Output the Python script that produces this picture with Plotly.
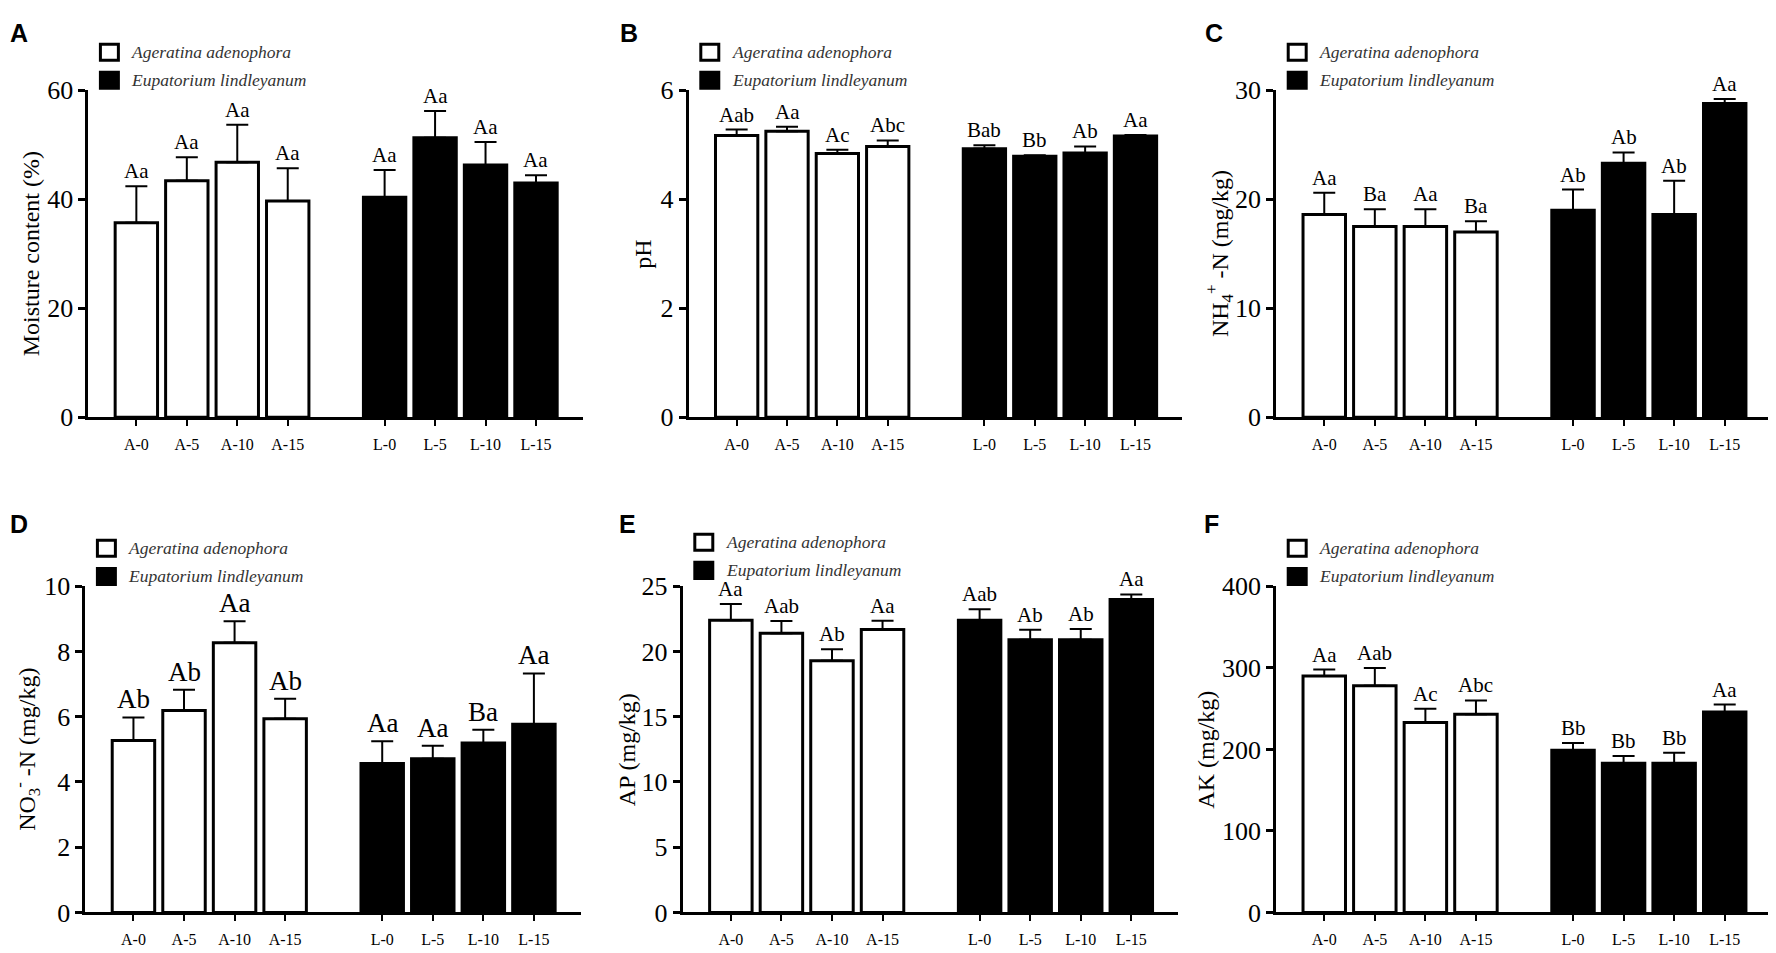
import plotly.graph_objects as go

W, H = 1776, 953

# the photographed page shows the figure slightly shifted and squeezed
# vertically; positions below are reference pixels, mapped to figure pixels
SX, OX = 0.999, -4.5
SY, OY = 1.0315, -23.4

# ---- data ----
labels_a = ["A-0", "A-5", "A-10", "A-15"]
labels_l = ["L-0", "L-5", "L-10", "L-15"]
pos_a = [0, 1, 2, 3]
pos_l = [4.92, 5.92, 6.92, 7.92]

moist_a = [35.7, 43.4, 46.8, 39.7]
moist_a_err = [6.7, 4.3, 6.9, 6.0]
moist_l = [40.4, 51.3, 46.3, 43.0]
moist_l_err = [5.0, 4.9, 4.2, 1.4]
moist_let = ["Aa", "Aa", "Aa", "Aa", "Aa", "Aa", "Aa", "Aa"]

ph_a = [5.17, 5.25, 4.84, 4.97]
ph_a_err = [0.11, 0.08, 0.07, 0.11]
ph_l = [4.93, 4.79, 4.85, 5.16]
ph_l_err = [0.06, 0.02, 0.12, 0.02]
ph_let = ["Aab", "Aa", "Ac", "Abc", "Bab", "Bb", "Ab", "Aa"]

nh4_a = [18.6, 17.5, 17.5, 17.0]
nh4_a_err = [2.0, 1.6, 1.6, 1.0]
nh4_l = [19.0, 23.3, 18.6, 28.8]
nh4_l_err = [1.9, 1.0, 3.1, 0.4]
nh4_let = ["Aa", "Ba", "Aa", "Ba", "Ab", "Ab", "Ab", "Aa"]

no3_a = [5.27, 6.19, 8.27, 5.94]
no3_a_err = [0.71, 0.64, 0.66, 0.61]
no3_l = [4.57, 4.71, 5.20, 5.77]
no3_l_err = [0.68, 0.40, 0.40, 1.56]
no3_let = ["Ab", "Ab", "Aa", "Ab", "Aa", "Aa", "Ba", "Aa"]

ap_a = [22.4, 21.4, 19.3, 21.7]
ap_a_err = [1.25, 0.95, 0.87, 0.66]
ap_l = [22.4, 20.9, 20.9, 24.0]
ap_l_err = [0.85, 0.77, 0.84, 0.38]
ap_let = ["Aa", "Aab", "Ab", "Aa", "Aab", "Ab", "Ab", "Aa"]

ak_a = [290, 278, 233, 243]
ak_a_err = [8, 22, 17, 17]
ak_l = [199, 183, 183, 246]
ak_l_err = [9, 9, 13, 9]
ak_let = ["Aa", "Aab", "Ac", "Abc", "Bb", "Bb", "Bb", "Aa"]

species = ["Ageratina adenophora", "Eupatorium lindleyanum"]

# panel: letter, values, y ticks, title, pixel box (left, right, top, bottom),
# letter pos, title offset, letter font size, legend lift
panels = [
    ("A", moist_a, moist_a_err, moist_l, moist_l_err, moist_let, [0, 20, 40, 60],
     "Moisture content (%)", (85, 580, 91, 418), (10, 17), -58, 21, 0),
    ("B", ph_a, ph_a_err, ph_l, ph_l_err, ph_let, [0, 2, 4, 6],
     "pH", (686, 1180, 91, 418), (626, 17), -46, 21, 0),
    ("C", nh4_a, nh4_a_err, nh4_l, nh4_l_err, nh4_let, [0, 10, 20, 30],
     "NH<sub>4</sub><sup>+</sup> -N (mg/kg)", (1274, 1770, 91, 418), (1212, 17), -57, 21, 0),
    ("D", no3_a, no3_a_err, no3_l, no3_l_err, no3_let, [0, 2, 4, 6, 8, 10],
     "NO<sub>3</sub><sup>-</sup> -N (mg/kg)", (82, 578, 587, 913), (10, 525), -58, 27, 0),
    ("E", ap_a, ap_a_err, ap_l, ap_l_err, ap_let, [0, 5, 10, 15, 20, 25],
     "AP (mg/kg)", (680, 1176, 587, 913), (625, 525), -55, 21, 6),
    ("F", ak_a, ak_a_err, ak_l, ak_l_err, ak_let, [0, 100, 200, 300, 400],
     "AK (mg/kg)", (1274, 1770, 587, 913), (1209, 525), -70, 21, 0),
]

SERIF = "Liberation Serif, Times New Roman, serif"
SANS = "Liberation Sans, Arial, sans-serif"


def fx(x):
    return SX * x + OX


def fy(y):
    return SY * y + OY


def px(x):
    return fx(x) / W


def py(y):
    return 1 - fy(y) / H


fig = go.Figure()
annotations = []
shapes = []
layout = {}

for i, (tag, va, ea, vl, el, lets, yt, ytitle, box, lpos, toff, lsize, lift) in enumerate(panels):
    n = "" if i == 0 else str(i + 1)
    xa, ya = "x" + n, "y" + n
    left, right, top, bottom = box

    for xs, vals, errs, fill in [(pos_a, va, ea, "white"), (pos_l, vl, el, "black")]:
        fig.add_trace(go.Bar(
            x=xs, y=vals, xaxis=xa, yaxis=ya, width=0.84,
            marker=dict(color=fill, line=dict(color="black", width=3)),
            error_y=dict(type="data", symmetric=False, array=errs,
                         arrayminus=[0] * len(errs), color="black",
                         thickness=2, width=11),
            showlegend=False, hoverinfo="skip",
        ))

    xs_all = pos_a + pos_l
    tops = [v + e for v, e in zip(va + vl, ea + el)]
    for xx, yy, t in zip(xs_all, tops, lets):
        annotations.append(dict(x=xx, y=yy, xref=xa, yref=ya, text=t,
                                showarrow=False, xanchor="center", yanchor="bottom", yshift=1,
                                font=dict(family=SERIF, size=lsize, color="black")))

    layout["xaxis" + n] = dict(
        domain=[px(left), min(px(right), 1)], anchor=ya, range=[-0.95, 8.85],
        tickvals=xs_all, ticktext=labels_a + labels_l,
        showline=True, linecolor="black", linewidth=3,
        ticks="outside", ticklen=6, tickwidth=2, tickcolor="black",
        tickfont=dict(family=SERIF, size=16, color="black"),
        ticklabelstandoff=4, showgrid=False, zeroline=False, fixedrange=True,
    )
    layout["yaxis" + n] = dict(
        domain=[py(bottom), py(top)], anchor=xa, range=[0, yt[-1]],
        tickvals=yt, showline=True, linecolor="black", linewidth=3,
        ticks="outside", ticklen=7, tickwidth=3, tickcolor="black",
        tickfont=dict(family=SERIF, size=26, color="black"),
        showgrid=False, zeroline=False, fixedrange=True,
    )

    # axis title
    annotations.append(dict(x=px(left + toff), y=py((top + bottom) / 2), xref="paper", yref="paper",
                            text=ytitle, textangle=-90, showarrow=False,
                            xanchor="center", yanchor="middle",
                            font=dict(family=SERIF, size=24, color="black")))
    # panel letter (kept inside the figure)
    lx = max(fx(lpos[0]), 11)
    ly = max(fy(lpos[1]), 11)
    annotations.append(dict(x=lx / W, y=1 - ly / H, xref="paper", yref="paper",
                            text="<b>%s</b>" % tag, showarrow=False,
                            xanchor="center", yanchor="middle",
                            font=dict(family=SANS, size=25, color="black")))
    # legend boxes
    for k, (name, fill) in enumerate(zip(species, ["white", "black"])):
        cy = top - 38 - lift + 28 * k
        shapes.append(dict(type="rect", xref="paper", yref="paper",
                           x0=px(left + 12), x1=px(left + 30),
                           y0=py(cy + 8), y1=py(cy - 8),
                           line=dict(color="black", width=3), fillcolor=fill))
        annotations.append(dict(x=px(left + 41), y=py(cy), xref="paper", yref="paper",
                                text="<i>%s</i>" % name, showarrow=False,
                                xanchor="left", yanchor="middle",
                                font=dict(family=SERIF, size=17.5, color="#333333")))

fig.update_layout(
    width=W, height=H, margin=dict(l=0, r=0, t=0, b=0),
    paper_bgcolor="white", plot_bgcolor="white",
    barmode="overlay", annotations=annotations, shapes=shapes, **layout,
)

fig.write_html("out.html")
